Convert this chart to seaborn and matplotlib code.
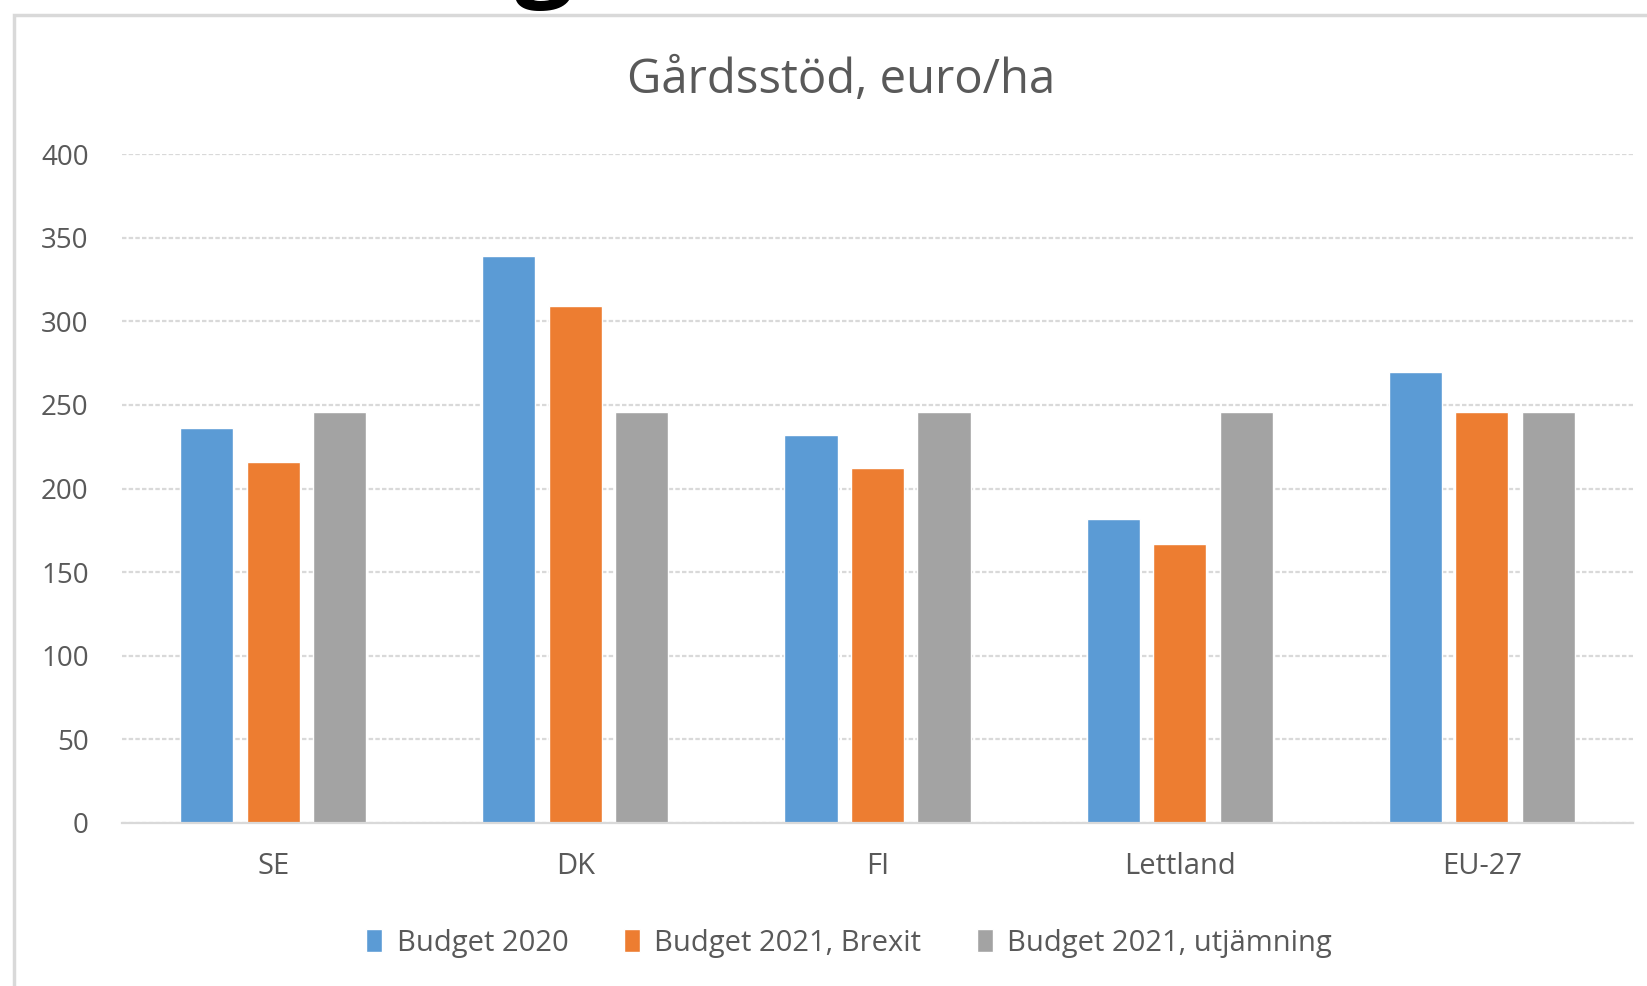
import pandas as pd
import seaborn as sns
import matplotlib.pyplot as plt
from matplotlib.patches import Rectangle

# data
lander = ['SE', 'DK', 'FI', 'Lettland', 'EU-27']
budget_2020 = [236, 339, 232, 182, 269.5]
budget_2021_brexit = [216, 309, 212, 167, 246]
budget_2021_utj = [246, 246, 246, 246, 246]
serier = ['Budget 2020', 'Budget 2021, Brexit', 'Budget 2021, utjämning']
farger = ['#5B9BD5', '#ED7D31', '#A3A3A3']
y_ticks = [0, 50, 100, 150, 200, 250, 300, 350, 400]

df = pd.DataFrame({
    'land': lander * 3,
    'serie': [serier[0]] * 5 + [serier[1]] * 5 + [serier[2]] * 5,
    'varde': budget_2020 + budget_2021_brexit + budget_2021_utj,
})

sns.set_style('white')
plt.rcParams['font.family'] = ['Open Sans', 'DejaVu Sans']
text_col = '#595959'

fig = plt.figure(figsize=(16.47, 9.86), dpi=100)
ax = fig.add_axes([0.0741, 0.1656, 0.9174, 0.6779])

sns.barplot(data=df, x='land', y='varde', hue='serie', palette=farger,
            width=0.66, gap=0.2, saturation=1, ax=ax)

ax.set_ylim(0, 400)
ax.set_yticks(y_ticks)
ax.set_xlabel('')
ax.set_ylabel('')
ax.grid(axis='y', color='#D9D9D9', linewidth=1.6, linestyle=(0, (2, 1)))
ax.set_axisbelow(True)
for s in ['top', 'right', 'left']:
    ax.spines[s].set_visible(False)
ax.spines['bottom'].set_color('#D9D9D9')
ax.spines['bottom'].set_linewidth(1.6)
ax.tick_params(axis='y', length=0, pad=24, labelsize=20, labelcolor=text_col)
ax.tick_params(axis='x', length=0, pad=21, labelsize=21, labelcolor=text_col)

handles, labels = ax.get_legend_handles_labels()
ax.get_legend().remove()
fig.legend(handles, labels, loc='center', bbox_to_anchor=(0.5155, 0.0436),
           ncol=3, frameon=False, fontsize=21, labelcolor=text_col,
           handlelength=0.55, handleheight=0.85, handletextpad=0.5,
           columnspacing=1.9)

fig.text(0.5106, 0.9055, 'Gårdsstöd, euro/ha', ha='center', va='baseline',
         fontsize=34, color=text_col)

# chart area border (cut off at right and bottom)
fig.patches.append(Rectangle((14 / 1647, -0.1), 1.2, 1.1 - 15 / 986,
                             transform=fig.transFigure, fill=False,
                             edgecolor='#D9D9D9', linewidth=2.5))

# descender of a heading letter above the chart
fig.text(515 / 1647, 1.014, 'g', ha='left', va='baseline', fontsize=75,
         color='black', fontweight='bold')

fig.savefig('out.png', dpi=100)
